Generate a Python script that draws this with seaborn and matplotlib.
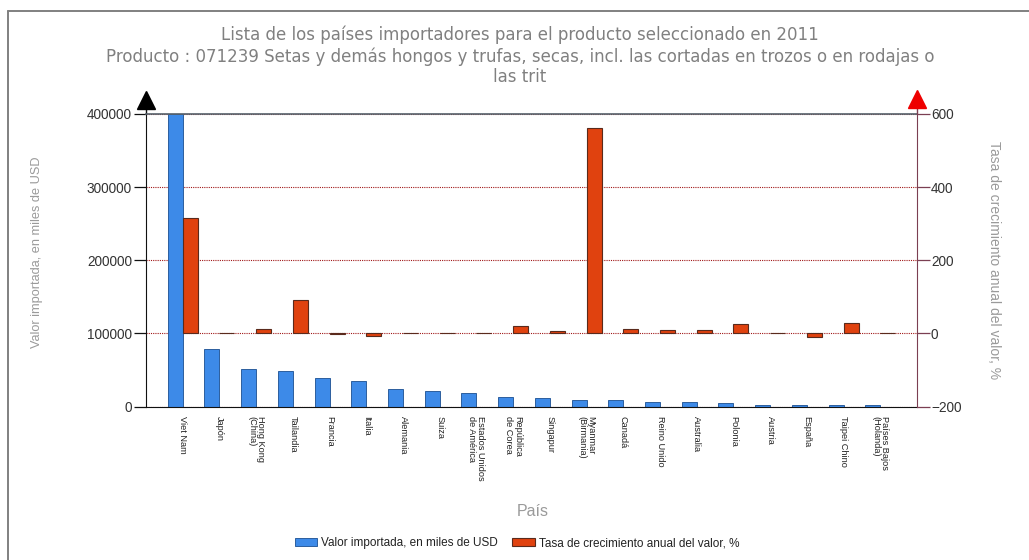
import matplotlib
matplotlib.use("Agg")
import matplotlib.pyplot as plt
from matplotlib.patches import Patch
from matplotlib.lines import Line2D
import seaborn as sns
import pandas as pd

# ---------------- data ----------------
paises = ["Viet Nam", "Japón", "Hong Kong\n(China)", "Tailandia", "Francia", "Italia",
          "Alemania", "Suiza", "Estados Unidos\nde América", "República\nde Corea",
          "Singapur", "Myanmar\n(Birmania)", "Canadá", "Reino Unido", "Australia",
          "Polonia", "Austria", "España", "Taipei Chino", "Países Bajos\n(Holanda)"]
valor = [400000, 78000, 51000, 48500, 39500, 34500, 24500, 21500, 18800, 13300,
         12000, 8800, 8500, 6000, 6000, 4800, 2600, 2500, 2400, 2300]
tasa = [316, 2, 12, 92, -3, -6, 0.5, 2, 1.5, 20, 7, 563, 12, 9, 9, 25, 2, -10, 29, 1.5]

serie1 = "Valor importada, en miles de USD"
serie2 = "Tasa de crecimiento anual del valor, %"
left_ticks = [0, 100000, 200000, 300000, 400000]
right_ticks = [-200, 0, 200, 400, 600]

titulo = ("Lista de los países importadores para el producto seleccionado en 2011\n"
          "Producto : 071239 Setas y demás hongos y trufas, secas, incl. las cortadas en trozos o en rodajas o\n"
          "las trit")

BLUE, BLUE_E = "#3d8ae8", "#2c5e9e"
RED, RED_E = "#e0420f", "#5a2a1c"

df1 = pd.DataFrame({"País": paises, "v": valor, "Serie": serie1})
df2 = pd.DataFrame({"País": paises, "v": tasa, "Serie": serie2})

sns.set_style("white")
plt.rcParams["font.family"] = ["Liberation Sans", "DejaVu Sans"]

fig = plt.figure(figsize=(10.29, 5.6), dpi=100)
ax = fig.add_axes([146 / 1029, 1 - 406.5 / 560, (917 - 146) / 1029, (406.5 - 114) / 560])
ax2 = ax.twinx()

pal = {serie1: BLUE, serie2: RED}
sns.barplot(data=df1, x="País", y="v", hue="Serie", hue_order=[serie1, serie2],
            order=paises, palette=pal, width=0.82, dodge=True, ax=ax, edgecolor=BLUE_E,
            linewidth=0.7, legend=False, errorbar=None, saturation=1)
sns.barplot(data=df2, x="País", y="v", hue="Serie", hue_order=[serie1, serie2],
            order=paises, palette=pal, width=0.82, dodge=True, ax=ax2, edgecolor=RED_E,
            linewidth=0.8, legend=False, errorbar=None, saturation=1)

ax.set_xlim(-1, len(paises))
ax.set_ylim(left_ticks[0], left_ticks[-1])
ax2.set_ylim(right_ticks[0], right_ticks[-1])
ax.set_yticks(left_ticks)
ax2.set_yticks(right_ticks)
ax.set_xlabel("")
ax.set_ylabel("")
ax2.set_ylabel("")

# grid
ax.set_axisbelow(True)
ax.yaxis.grid(True, color="#a01818", linestyle=(0, (1, 1)), linewidth=0.8)
ax.xaxis.grid(False)

# spines
for s in ["left", "right", "top", "bottom"]:
    ax.spines[s].set_visible(False)
    ax2.spines[s].set_visible(False)
ax.spines["left"].set_visible(True)
ax.spines["left"].set_color("#111111")
ax.spines["bottom"].set_visible(True)
ax.spines["bottom"].set_color("#111111")
ax.spines["top"].set_visible(True)
ax.spines["top"].set_color("#55606a")
ax.spines["top"].set_linewidth(1.2)
ax2.spines["right"].set_visible(True)
ax2.spines["right"].set_color("#7b3f52")

# ticks
ax.tick_params(axis="y", left=True, length=9, width=0.9, color="#111111",
               labelsize=9.8, labelcolor="#333333", pad=1)
ax2.tick_params(axis="y", right=True, length=9, width=0.9, color="#7b3f52",
                labelsize=9.8, labelcolor="#333333", pad=1)
ax.tick_params(axis="x", length=0, pad=7)
ax.set_xticks(range(len(paises)))
ax.set_xticklabels(paises, rotation=270, ha="center", va="top",
                   multialignment="left", fontsize=6.6, color="#222222",
                   family=["Liberation Sans Narrow", "Liberation Sans"],
                   linespacing=1.0)

# arrows on the axes
ax.add_line(Line2D([0, 0], [1, 1.045], transform=ax.transAxes, color="#111111",
                   lw=1, clip_on=False))
ax.plot([0], [1.047], marker="^", markersize=13, color="black",
        transform=ax.transAxes, clip_on=False)
ax2.add_line(Line2D([1, 1], [1, 1.045], transform=ax2.transAxes, color="#7b3f52",
                    lw=1, clip_on=False))
ax2.plot([1], [1.05], marker="^", markersize=13, color="#ee0000",
         transform=ax2.transAxes, clip_on=False)

# texts
fig.text(520 / 1029, 1 - 26 / 560, titulo, ha="center", va="top", fontsize=12,
         color="#808080", family="DejaVu Sans", linespacing=1.18)
fig.text(37 / 1029, 1 - 252 / 560, serie1, rotation=90, ha="center", va="center",
         fontsize=9.2, color="#9a9a9a")
fig.text(994 / 1029, 1 - 260 / 560, serie2, rotation=270, ha="center", va="center",
         fontsize=10, color="#9a9a9a")
fig.text(533 / 1029, 1 - 511 / 560, "País", ha="center", va="center",
         fontsize=11.5, color="#9a9a9a")

handles = [Patch(facecolor=BLUE, edgecolor=BLUE_E, linewidth=0.7, label=serie1),
           Patch(facecolor=RED, edgecolor=RED_E, linewidth=0.8, label=serie2)]
fig.legend(handles=handles, loc="center", bbox_to_anchor=(517 / 1029, 1 - 543 / 560),
           ncol=2, frameon=False, fontsize=8.5, handlelength=1.9, handleheight=0.75,
           handletextpad=0.35, columnspacing=1.2, labelcolor="#222222")

# outer frame lines
fig.add_artist(Line2D([8 / 1029, 8 / 1029], [0, 1 - 11 / 560], transform=fig.transFigure,
                      color="#808080", lw=1.4))
fig.add_artist(Line2D([8 / 1029, 1], [1 - 11 / 560, 1 - 11 / 560], transform=fig.transFigure,
                      color="#808080", lw=1.4))

fig.savefig("out.png", dpi=100)
